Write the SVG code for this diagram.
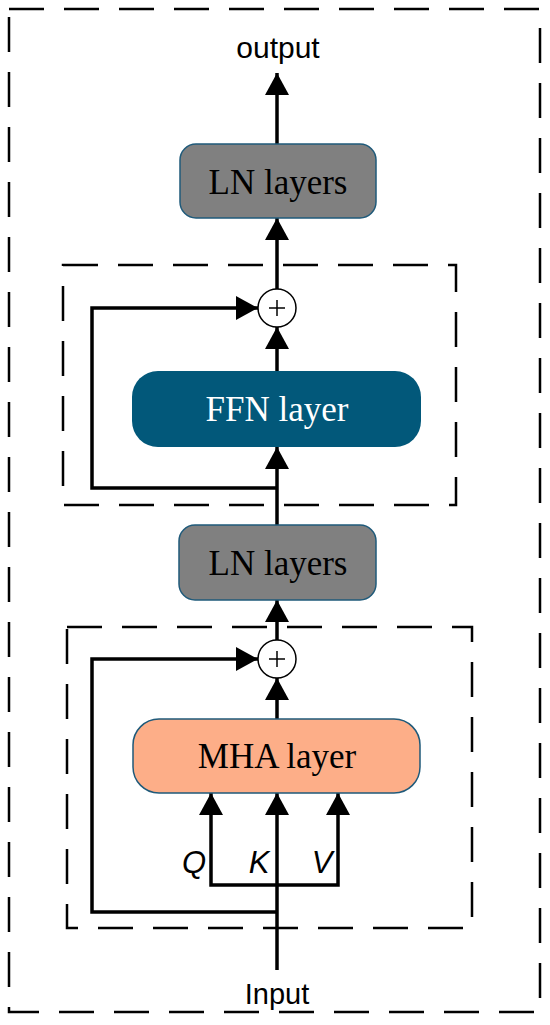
<svg xmlns="http://www.w3.org/2000/svg" width="550" height="1025" viewBox="0 0 550 1025">
<style>
.dash{fill:none;stroke:#000;stroke-width:2.5;stroke-dasharray:35 20}
.box{stroke:#1f5a7a;stroke-width:1.5}
.ln{fill:#808080}
.ser{font-family:"Liberation Serif",serif;font-size:35px;text-anchor:middle}
.san{font-family:"Liberation Sans",Arial,sans-serif;text-anchor:middle;fill:#000}
.con{fill:none;stroke:#000;stroke-width:3.5}
.sum{fill:#fff;stroke:#000;stroke-width:1.5}
.plus{stroke:#000;stroke-width:1.5}
</style>
<defs>
<marker id="ah" markerUnits="userSpaceOnUse" markerWidth="22" markerHeight="24" refX="22" refY="12" orient="auto" viewBox="0 0 22 24">
<path d="M0,0 L22,12 L0,24 z" fill="#000"/>
</marker>
</defs>
<rect id="outer" class="dash" x="9" y="9" width="531" height="1003"/>
<rect id="ffn-block" class="dash" x="63" y="265" width="393" height="240"/>
<rect id="mha-block" class="dash" x="67" y="627" width="405" height="301"/>
<g id="connectors">
<line class="con" x1="277" y1="144" x2="277" y2="73" marker-end="url(#ah)"/>
<line class="con" x1="277" y1="289" x2="277" y2="218" marker-end="url(#ah)"/>
<line class="con" x1="277" y1="371" x2="277" y2="327" marker-end="url(#ah)"/>
<path class="con" d="M277,488 L92,488 L92,308 L258,308" marker-end="url(#ah)"/>
<line class="con" x1="277" y1="525" x2="277" y2="447" marker-end="url(#ah)"/>
<line class="con" x1="277" y1="640" x2="277" y2="600" marker-end="url(#ah)"/>
<line class="con" x1="277" y1="719" x2="277" y2="678" marker-end="url(#ah)"/>
<path class="con" d="M277,912 L92,912 L92,659 L258,659" marker-end="url(#ah)"/>
<line class="con" x1="277" y1="970" x2="277" y2="793" marker-end="url(#ah)"/>
<path class="con" d="M277,885 L211,885 L211,793" marker-end="url(#ah)"/>
<path class="con" d="M277,885 L338,885 L338,793" marker-end="url(#ah)"/>
</g>
<g id="output-label"><text class="san" x="278" y="58" font-size="30">output</text></g>
<g id="ln-top">
<rect class="box ln" x="180" y="144" width="196" height="74" rx="16"/>
<text class="ser" x="278" y="194" fill="#000">LN layers</text>
</g>
<g id="sum-top">
<circle class="sum" cx="277" cy="308" r="19"/>
<line class="plus" x1="269" y1="308" x2="285" y2="308"/>
<line class="plus" x1="277" y1="300" x2="277" y2="316"/>
</g>
<g id="ffn">
<rect x="132" y="371" width="289" height="76" rx="26" fill="#02587a"/>
<text class="ser" x="277" y="421" fill="#fff">FFN layer</text>
</g>
<g id="ln-mid">
<rect class="box ln" x="179" y="525" width="197" height="75" rx="16"/>
<text class="ser" x="278" y="575" fill="#000">LN layers</text>
</g>
<g id="sum-bottom">
<circle class="sum" cx="277" cy="659" r="19"/>
<line class="plus" x1="269" y1="659" x2="285" y2="659"/>
<line class="plus" x1="277" y1="651" x2="277" y2="667"/>
</g>
<g id="mha">
<rect class="box" x="133" y="719" width="287" height="74" rx="26" fill="#fdae88"/>
<text class="ser" x="277" y="768" fill="#000">MHA layer</text>
</g>
<g id="qkv-labels">
<text class="san" x="194" y="873" font-size="31" font-style="italic">Q</text>
<text class="san" x="259" y="873" font-size="31" font-style="italic">K</text>
<text class="san" x="322" y="873" font-size="31" font-style="italic">V</text>
</g>
<g id="input-label"><text class="san" x="277" y="1004" font-size="29">Input</text></g>
</svg>
